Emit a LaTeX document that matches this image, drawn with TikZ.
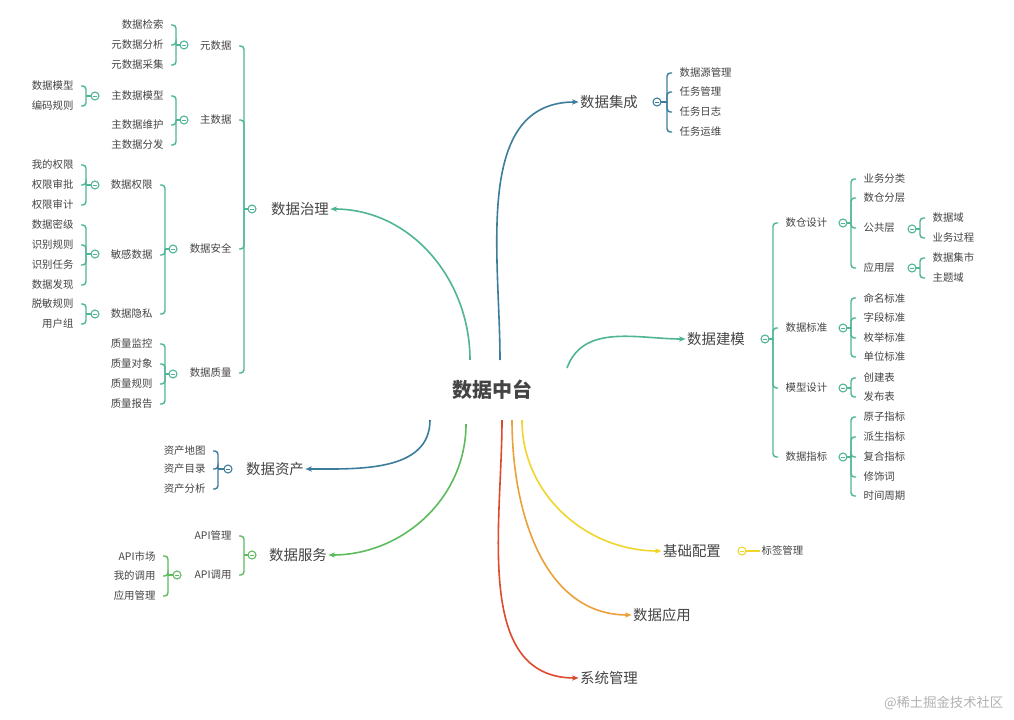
\documentclass[tikz,border=0pt]{standalone}
\usepackage{fontspec}
\setmainfont{Noto Sans CJK SC}
\usetikzlibrary{arrows.meta}
\definecolor{tl}{HTML}{4FB596}
\definecolor{bl}{HTML}{3C7D9C}
\definecolor{gr}{HTML}{5DBB5E}
\definecolor{yl}{HTML}{F0D62C}
\definecolor{og}{HTML}{EBA03A}
\definecolor{rd}{HTML}{DF4A2E}
\definecolor{tx}{HTML}{444444}
\tikzset{
 leaf/.style={inner sep=1pt,text=tx,font=\fontsize{7.8}{9}\selectfont},
 main/.style={inner sep=1pt,text=tx,font=\fontsize{10.8}{12}\selectfont},
 br/.style={line width=1.1pt,rounded corners=2.5pt},
 conn/.style={line width=1.2pt,-{Stealth[length=5pt,width=4pt]}},
}
\newcommand\lbr[6]{%
 \draw[#2,line width=0.8pt,fill=white] (#3,#4) circle (4);
 \draw[#2,line width=0.6pt] (#3-2,#4)--(#3+2,#4);
 \draw[#2,br] (#3-4,#4)--(#5,#4);
 \foreach \yy/\tt [count=\i] in {#6}{%
  \node[leaf,anchor=east] (#1-\i) at (#5-11,\yy) {\tt};
  \draw[#2,br] (#5,#4) |- ([xshift=4.5pt]#1-\i.east);}}
\newcommand\rbr[6]{%
 \draw[#2,line width=0.8pt,fill=white] (#3,#4) circle (4);
 \draw[#2,line width=0.6pt] (#3-2,#4)--(#3+2,#4);
 \draw[#2,br] (#3+4,#4)--(#5,#4);
 \foreach \yy/\tt [count=\i] in {#6}{%
  \node[leaf,anchor=west] (#1-\i) at (#5+11,\yy) {\tt};
  \draw[#2,br] (#5,#4) |- ([xshift=-4.5pt]#1-\i.west);}}
\begin{document}
\begin{tikzpicture}[x=0.75pt,y=-0.75pt]
\useasboundingbox (0,0) rectangle (1014,720);
\fill[white] (0,0) rectangle (1014,720);
\node[text=tx,font=\fontsize{15}{17}\selectfont\bfseries] (c) at (492,390) {数据中台};
\node[main] (zl) at (300,209) {数据治理};
\node[main] (zc) at (275,469) {数据资产};
\node[main] (fw) at (298,555) {数据服务};
\node[main] (jc) at (609,102) {数据集成};
\node[main] (jm) at (716,339) {数据建模};
\node[main] (pz) at (692,551) {基础配置};
\node[main] (yy) at (662,615) {数据应用};
\node[main] (xt) at (609,678) {系统管理};
\coordinate (s1) at (470,360);
\coordinate (s2) at (430,420);
\coordinate (s3) at (466,424);
\coordinate (s4) at (500,360);
\coordinate (s5) at (567,368);
\coordinate (s6) at (522,420);
\coordinate (s7) at (512,420);
\coordinate (s8) at (502,420);
\draw[conn,tl] (s1) to[out=90,in=0] (zl.east);
\draw[conn,bl] (s2) to[out=-90,in=0] (zc.east);
\draw[conn,gr] (s3) to[out=-90,in=0] (fw.east);
\draw[conn,bl] (s4) to[out=90,in=180] (jc.west);
\draw[conn,tl] (s5) to[out=70,in=180] (jm.west);
\draw[conn,yl] (s6) to[out=-90,in=180] (pz.west);
\draw[conn,og] (s7) to[out=-90,in=180] (yy.west);
\draw[conn,rd] (s8) to[out=-90,in=180] (xt.west);
\lbr{g}{tl}{252}{209}{244}{46/元数据,120/主数据,249/数据安全,373/数据质量}
\lbr{m}{tl}{184}{45}{176}{25/数据检索,45/元数据分析,65/元数据采集}
\lbr{z}{tl}{184}{120}{176}{96/主数据模型,125/主数据维护,145/主数据分发}
\lbr{zm}{tl}{95}{96}{86}{86/数据模型,106/编码规则}
\lbr{a}{tl}{173}{249}{165}{185/数据权限,255/敏感数据,314/数据隐私}
\lbr{aq}{tl}{95}{185}{86}{165/我的权限,185/权限审批,205/权限审计}
\lbr{am}{tl}{95}{254}{86}{225/数据密级,245/识别规则,265/识别任务,285/数据发现}
\lbr{ay}{tl}{95}{314}{86}{304/脱敏规则,324/用户组}
\lbr{q}{tl}{173}{374}{165}{344/质量监控,364/质量对象,384/质量规则,404/质量报告}
\lbr{zc}{bl}{228}{469}{218}{451/资产地图,469/资产目录,489/资产分析}
\lbr{f}{gr}{252}{555}{244}{536/API管理,575/API调用}
\lbr{fa}{gr}{177}{575}{168}{556/API市场,576/我的调用,596/应用管理}
\rbr{j}{bl}{657}{102}{667}{73/数据源管理,92/任务管理,112/任务日志,132/任务运维}
\rbr{b}{tl}{765}{339}{773}{223/数仓设计,328/数据标准,388/模型设计,457/数据指标}
\rbr{bs}{tl}{843}{223}{851}{179/业务分类,198/数仓分层,228/公共层,268/应用层}
\rbr{bg}{tl}{912}{229}{920}{218/数据域,238/业务过程}
\rbr{ba}{tl}{912}{268}{920}{258/数据集市,278/主题域}
\rbr{bb}{tl}{843}{328}{851}{298/命名标准,318/字段标准,338/枚举标准,357/单位标准}
\rbr{bm}{tl}{843}{388}{851}{378/创建表,397/发布表}
\rbr{bz}{tl}{843}{457}{851}{417/原子指标,437/派生指标,457/复合指标,477/修饰词,496/时间周期}
\draw[yl,line width=0.8pt,fill=white] (742,551) circle (4);
\draw[yl,line width=0.6pt] (740,551)--(744,551);
\node[leaf,anchor=west] (bq) at (760,551) {标签管理};
\draw[yl,line width=1.1pt] (746,551)--(bq.west);
\node[text=gray!60,font=\fontsize{10}{12}\selectfont,anchor=east] (wm) at (1008,703) {@稀土掘金技术社区};
\end{tikzpicture}
\end{document}
